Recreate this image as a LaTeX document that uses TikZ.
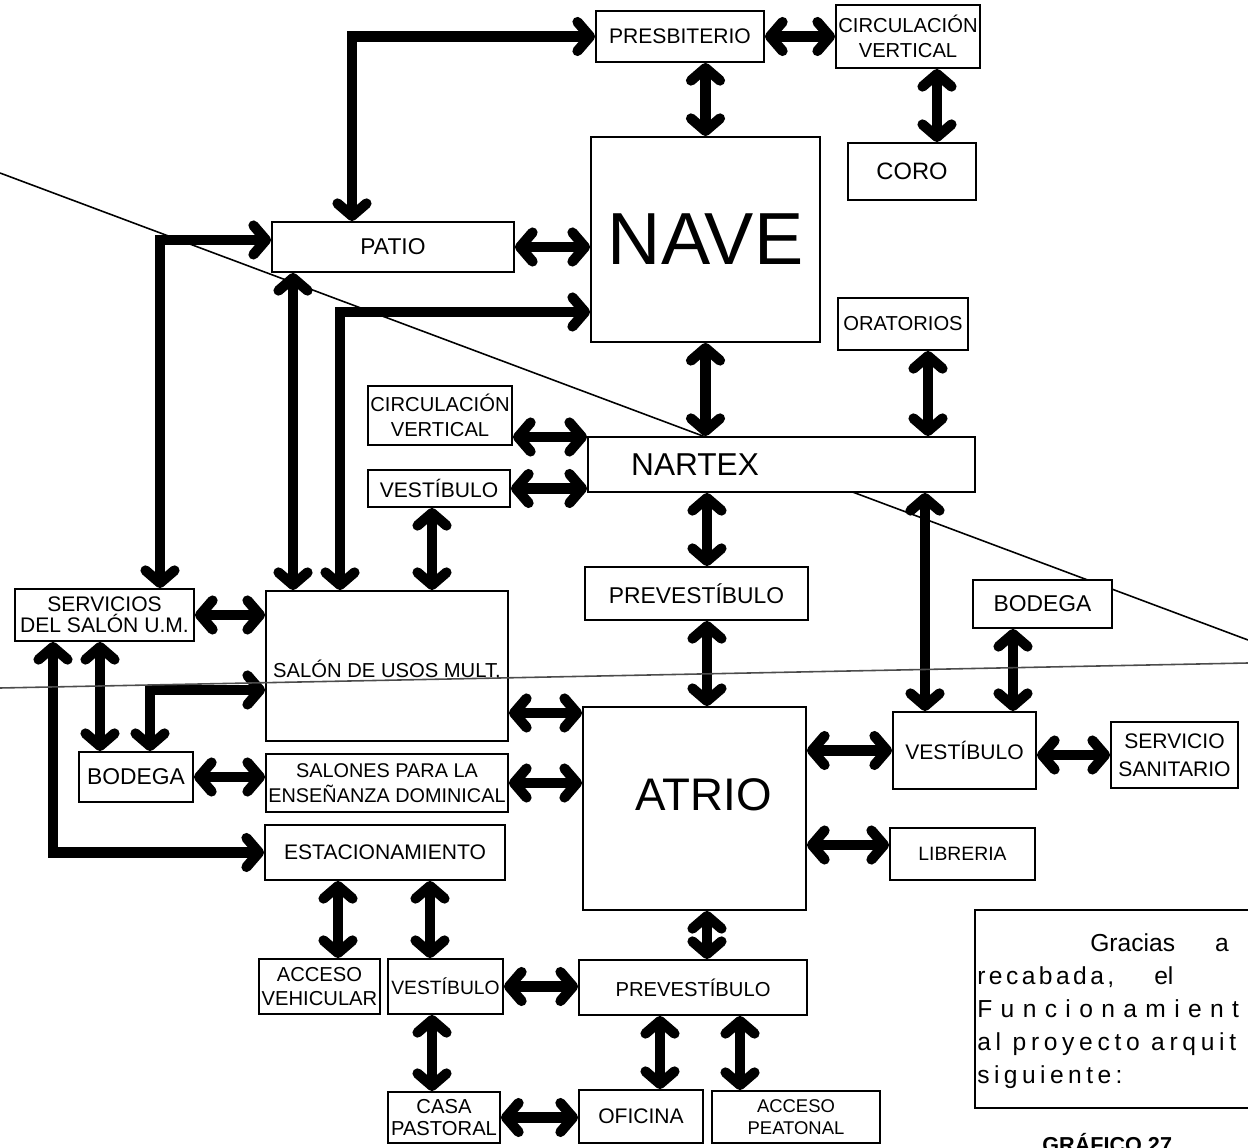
\documentclass[tikz,border=0pt]{standalone}
\usepackage{fontspec}
\setmainfont{Liberation Sans}
\usepackage{tikz}
\usetikzlibrary{arrows.meta, positioning, calc}

\begin{document}
\begin{tikzpicture}[
    x=0.02cm, y=-0.02cm,
    box/.style={rectangle, draw, line width=1.1pt, fill=white, inner sep=1pt, align=center, font=\fontsize{12}{13.5}\selectfont},
    twoline/.style={font=\fontsize{11.5}{14}\selectfont},
    link/.style={<->, line width=5.8pt},
    >={Straight Barb[round, length=2.5mm, width=5.8mm]},
    crease/.style={line width=0.9pt}
]
\useasboundingbox (0,0) rectangle (1248,1148);
\fill[white] (0,0) rectangle (1248,1148);

% fold line of the sheet, runs under the boxes
\draw[crease] (0,173) -- (1248,640);

% upper zone
\node[box, minimum width=3.36cm, minimum height=1.02cm] (presb) at (680,36.5) {PRESBITERIO};
\node[box, twoline, minimum width=2.88cm, minimum height=1.26cm] (circ1) at (908,36.5) {CIRCULACIÓN\\VERTICAL};
\node[box, minimum width=2.56cm, minimum height=1.14cm, font=\fontsize{13.5}{14}\selectfont] (coro) at (912,171.5) {CORO};
\node[box, minimum width=4.58cm, minimum height=4.1cm, font=\fontsize{42}{42}\selectfont] (nave) at (705.5,239.5) {NAVE};
\node[box, minimum width=4.84cm, minimum height=1cm, font=\fontsize{13}{14}\selectfont] (patio) at (393,247) {PATIO};
\node[box, minimum width=2.6cm, minimum height=1.04cm, font=\fontsize{11.5}{13}\selectfont] (orat) at (903,324) {ORATORIOS};
\node[box, twoline, minimum width=2.88cm, minimum height=1.18cm] (circ2) at (440,415.5) {CIRCULACIÓN\\VERTICAL};
\node[box, minimum width=7.74cm, minimum height=1.1cm,
      label={[font=\fontsize{18}{18}\selectfont, xshift=-1.73cm]center:NARTEX}] (nartex) at (781.5,464.5) {};
\node[box, minimum width=2.84cm, minimum height=0.74cm] (vest1) at (439,488.5) {VESTÍBULO};
\node[box, minimum width=4.46cm, minimum height=1.06cm, font=\fontsize{13}{14}\selectfont] (prev1) at (696.5,593.5) {PREVESTÍBULO};
\node[box, minimum width=2.78cm, minimum height=0.96cm, font=\fontsize{13}{14}\selectfont] (bod1) at (1042.5,604) {BODEGA};

% middle zone
\node[box, minimum width=3.58cm, minimum height=1.04cm, font=\fontsize{12}{12}\selectfont] (serv) at (104.5,615) {SERVICIOS\\DEL SALÓN U.M.};
\node[box, minimum width=4.84cm, minimum height=3cm,
      label={[font=\fontsize{11.5}{13}\selectfont, yshift=-0.06cm]center:SALÓN DE USOS MULT.}] (salon) at (387,666) {};
\node[box, minimum width=4.46cm, minimum height=4.06cm,
      label={[font=\fontsize{26}{26}\selectfont, xshift=0.19cm, yshift=0.27cm]center:ATRIO}] (atrio) at (694.5,808.5) {};
\node[box, minimum width=2.86cm, minimum height=1.54cm] (vest2) at (964.5,750.5) {VESTÍBULO};
\node[box, twoline, font=\fontsize{12}{16}\selectfont, minimum width=2.54cm, minimum height=1.32cm] (sanit) at (1174.5,755) {SERVICIO\\SANITARIO};
\node[box, minimum width=2.28cm, minimum height=1cm, font=\fontsize{13}{14}\selectfont] (bod2) at (136,777) {BODEGA};
\node[box, twoline, font=\fontsize{11.3}{14.5}\selectfont, minimum width=4.84cm, minimum height=1.16cm] (salones) at (387,783) {SALONES PARA LA\\ENSEÑANZA DOMINICAL};
\node[box, minimum width=4.8cm, minimum height=1.1cm] (est) at (385,852.5) {ESTACIONAMIENTO};
\node[box, minimum width=2.9cm, minimum height=1.04cm, font=\fontsize{11}{13}\selectfont] (lib) at (962.5,854) {LIBRERIA};

% lower zone
\node[box, twoline, minimum width=2.42cm, minimum height=1.1cm] (accv) at (319.5,986.5) {ACCESO\\VEHICULAR};
\node[box, minimum width=2.3cm, minimum height=1.1cm, font=\fontsize{11}{13}\selectfont] (vest3) at (445.5,986.5) {VESTÍBULO};
\node[box, minimum width=4.56cm, minimum height=1.1cm, font=\fontsize{11.5}{13}\selectfont] (prev2) at (693,987.5) {PREVESTÍBULO};
\node[box, twoline, font=\fontsize{11.5}{12.5}\selectfont, minimum width=2.24cm, minimum height=1.02cm] (casa) at (444,1117.5) {CASA\\PASTORAL};
\node[box, minimum width=2.48cm, minimum height=1.06cm] (ofic) at (641,1116.5) {OFICINA};
\node[box, twoline, font=\fontsize{10.5}{12.5}\selectfont, minimum width=3.36cm, minimum height=1.04cm] (accp) at (796,1117) {ACCESO\\PEATONAL};

% text frame on the right
\node[draw, line width=1.1pt, fill=white, minimum width=6cm, minimum height=3.96cm] (nota) at (1125,1009) {};
\node[anchor=north west, align=left, inner sep=0pt, font=\fontsize{14}{18.8}\selectfont] (notatxt) at (977,933) {%
  \hspace*{2.26cm}Gracias\hspace{0.8cm}a\\
  {\addfontfeature{LetterSpace=14}recabada,}\hspace{0.8cm}el\\
  {\addfontfeature{LetterSpace=34}Funcionamient}\\
  {\addfontfeature{LetterSpace=19}al proyecto arquit}\\
  {\addfontfeature{LetterSpace=18}siguiente:}};
\node[anchor=base west, inner sep=0pt, font=\bfseries\fontsize{12.3}{13}\selectfont] (graf) at (1042,1152) {GRÁFICO 27.};

% connections, upper zone
\draw[link] (presb.west) -| ([xshift=-0.82cm]patio.north);
\draw[link] (presb.east) -- (circ1.west);
\draw[link] (nave.north) -- (nave.north |- presb.south);
\draw[link] ([xshift=0.5cm]coro.north) -- ([xshift=0.5cm]coro.north |- circ1.south);
\draw[link] (patio.east) -- (patio.east -| nave.west);
\draw[link] ([xshift=1.11cm]serv.north) |- ([yshift=0.14cm]patio.west);
\draw[link] ([xshift=-1.88cm]salon.north) -- ([xshift=-1.88cm]salon.north |- patio.south);
\draw[link] ([xshift=-0.94cm]salon.north) |- ([yshift=-1.45cm]nave.west);
\draw[link] (nave.south) -- (nave.south |- nartex.north);
\draw[link] ([xshift=0.5cm]orat.south) -- ([xshift=0.5cm]orat.south |- nartex.north);
\draw[link] ([yshift=-0.43cm]circ2.east) -- ([yshift=-0.43cm]circ2.east -| nartex.west);
\draw[link] (vest1.east) -- (vest1.east -| nartex.west);
\draw[link] ([xshift=-0.14cm]vest1.south) -- ([xshift=-0.14cm]vest1.south |- salon.north);
\draw[link] ([xshift=0.21cm]prev1.north) -- ([xshift=0.21cm]prev1.north |- nartex.south);
\draw[link] ([xshift=-0.79cm]vest2.north) -- ([xshift=-0.79cm]vest2.north |- nartex.south);
\draw[link] ([xshift=0.97cm]vest2.north) -- ([xshift=0.97cm]vest2.north |- bod1.south);
\draw[link] ([xshift=0.25cm]atrio.north) -- ([xshift=0.25cm]atrio.north |- prev1.south);

% connections, middle zone
\draw[link] (serv.east) -- (serv.east -| salon.west);
\draw[link] ([xshift=-0.09cm]serv.south) -- ([xshift=-0.09cm]serv.south |- bod2.north);
\draw[link] ([xshift=-1.03cm]serv.south) |- (est.west);
\draw[link] ([xshift=0.28cm]bod2.north) |- ([yshift=-0.48cm]salon.west);
\draw[link] (bod2.east) -- (bod2.east -| salones.west);
\draw[link] ([yshift=-0.94cm]salon.east) -- ([yshift=-0.94cm]salon.east -| atrio.west);
\draw[link] (salones.east) -- (salones.east -| atrio.west);
\draw[link] (vest2.west) -- (vest2.west -| atrio.east);
\draw[link] (sanit.west) -- (sanit.west -| vest2.east);
\draw[link] ([yshift=0.18cm]lib.west) -- ([yshift=0.18cm]lib.west -| atrio.east);

% connections, lower zone
\draw[link] ([xshift=0.37cm]accv.north) -- ([xshift=0.37cm]accv.north |- est.south);
\draw[link] ([xshift=-0.31cm]vest3.north) -- ([xshift=-0.31cm]vest3.north |- est.south);
\draw[link] ([xshift=0.28cm]prev2.north) -- ([xshift=0.28cm]prev2.north |- atrio.south);
\draw[link] (vest3.east) -- (vest3.east -| prev2.west);
\draw[link] ([xshift=-0.24cm]casa.north) -- ([xshift=-0.24cm]casa.north |- vest3.south);
\draw[link] (casa.east) -- (casa.east -| ofic.west);
\draw[link] ([xshift=0.38cm]ofic.north) -- ([xshift=0.38cm]ofic.north |- prev2.south);
\draw[link] ([xshift=-1.12cm]accp.north) -- ([xshift=-1.12cm]accp.north |- prev2.south);

% second fold line, crosses over the boxes
\draw[crease, black!70] (0,688) -- (1248,663);
\end{tikzpicture}
\end{document}
